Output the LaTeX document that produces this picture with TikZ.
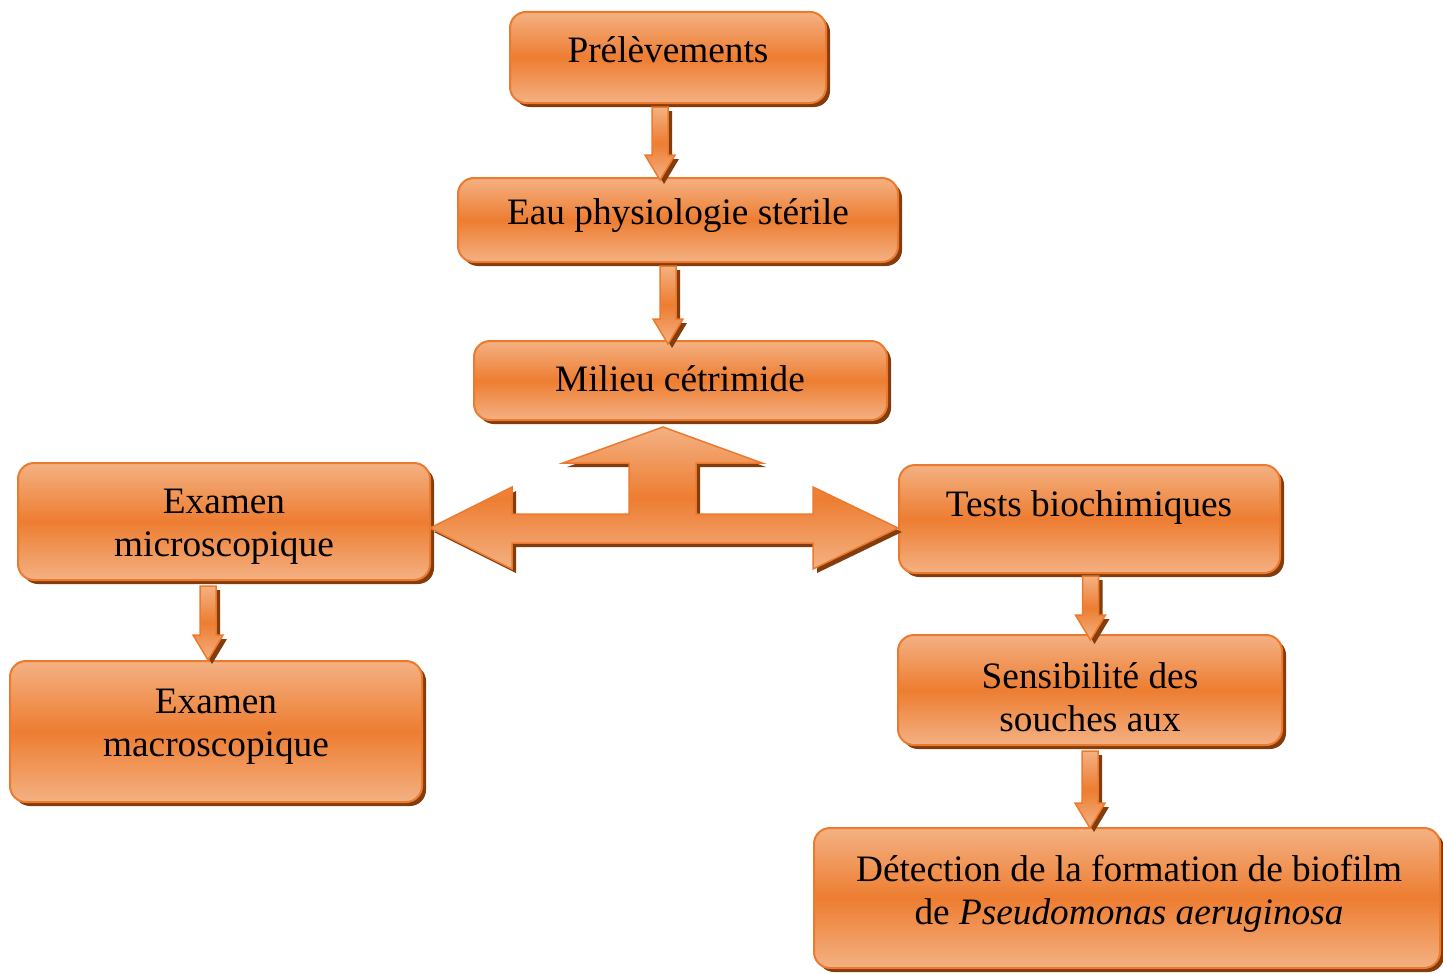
\documentclass[tikz,border=0pt]{standalone}
\usepackage{fontspec}
\setmainfont{Liberation Serif}
\usetikzlibrary{shadows,calc}
\definecolor{lightor}{HTML}{F4B183}
\definecolor{midor}{HTML}{ED7D31}
\definecolor{edgeor}{HTML}{EB7A2E}
\definecolor{shadowbr}{HTML}{843C0C}
\tikzset{
  brownshadow/.style={drop shadow={shadow xshift=4pt, shadow yshift=-4pt, fill=shadowbr, opacity=1}},
  boxshape/.style={rectangle, rounded corners=16pt, draw=edgeor, line width=2pt,
    top color=lightor, bottom color=lightor, middle color=midor, inner sep=0pt, brownshadow},
  boxtext/.style={font=\fontsize{37.3}{43}\selectfont, align=center, inner sep=0pt, text=black},
  blockarrow/.style={draw=edgeor, line width=1.5pt, line join=miter,
    top color=lightor, bottom color=lightor, middle color=midor, brownshadow},
}
\newcommand\vblock[2]{%
  \path[blockarrow] let \p1=(#1), \p2=(#2) in
   (\x1-8pt,\y1) -- (\x1+8pt,\y1) -- (\x1+8pt,\y2+25pt) -- (\x1+15pt,\y2+25pt)
   -- (\x1,\y2) -- (\x1-15pt,\y2+25pt) -- (\x1-8pt,\y2+25pt) -- cycle;}
\begin{document}
\begin{tikzpicture}[x=1pt,y=-1pt]
\useasboundingbox (0,0) rectangle (1443,974);
% boxes
\node[boxshape, minimum width=316pt, minimum height=91pt] (pre) at (668,57.5) {};
\node[boxshape, minimum width=440pt, minimum height=84pt] (eau) at (678,220) {};
\node[boxshape, minimum width=413pt, minimum height=79pt] (mil) at (680.5,380.5) {};
\node[boxshape, minimum width=412pt, minimum height=117pt] (mic) at (224,521.5) {};
\node[boxshape, minimum width=412pt, minimum height=141pt] (mac) at (216,731.5) {};
\node[boxshape, minimum width=381pt, minimum height=108pt] (tes) at (1089.5,519) {};
\node[boxshape, minimum width=384pt, minimum height=110pt] (sen) at (1090,690) {};
\node[boxshape, minimum width=626pt, minimum height=140pt] (det) at (1127,898) {};
% texts
\node[boxtext] (pret) at (668,50) {Prélèvements};
\node[boxtext] (eaut) at (678,216) {Eau physiologie stérile};
\node[boxtext] (milt) at (680,379) {Milieu cétrimide};
\node[boxtext] (mict) at (224,527) {Examen\\microscopique};
\node[boxtext] (mact) at (216,727) {Examen\\macroscopique};
\node[boxtext] (test) at (1089,508) {Tests biochimiques};
\node[boxtext] (sent) at (1090,697) {Sensibilité des\\souches aux};
\node[boxtext] (dett) at (1129,894) {Détection de la formation de biofilm\\de \textit{Pseudomonas aeruginosa}};
% small block arrows
\vblock{$(pre.south)+(-8,3)$}{$(eau.north)+(0,3)$}
\vblock{$(eau.south)+(-10,3)$}{$(mil.north)+(0,4)$}
\vblock{$(mic.south)+(-16,5)$}{$(mac.north)+(0,0)$}
\vblock{$(tes.south)+(1,2)$}{$(sen.north)+(0,6)$}
\vblock{$(sen.south)+(0,5)$}{$(det.north)+(0,1)$}
% three-way block arrow
\coordinate (uptip) at (663,427);
\coordinate (ltip) at (430,528);
\coordinate (rtip) at (898,528);
\path[blockarrow] (uptip) -- (762,463) -- (696,463) -- (696,514) -- (813,514) -- (813,487)
  -- (rtip) -- (813,569) -- (813,543) -- (512,543) -- (512,569) -- (ltip)
  -- (512,487) -- (512,514) -- (629,514) -- (629,463) -- (563,463) -- cycle;
\end{tikzpicture}
\end{document}
